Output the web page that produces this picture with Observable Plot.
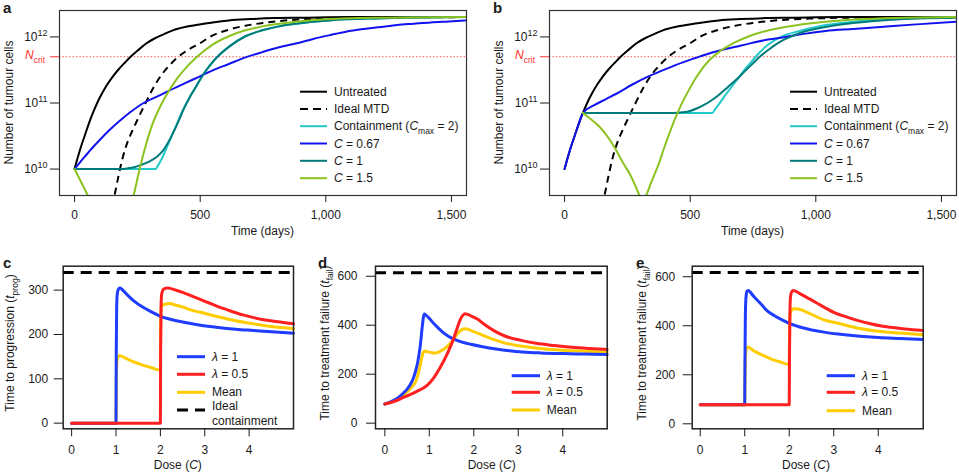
<!DOCTYPE html>
<html><head><meta charset="utf-8">
<script src="https://cdn.jsdelivr.net/npm/d3@7"></script>
<script src="https://cdn.jsdelivr.net/npm/@observablehq/plot@0.6"></script>
<style>
body{margin:0;background:#fff;}
#wrap{position:relative;width:959px;height:476px;overflow:hidden;font-family:"Liberation Sans",Arial,Helvetica,sans-serif;}
</style></head><body><div id="wrap"></div>
<script>
// ---------- Panel a / b data: [day, log10(number of tumour cells)] ----------
const untreated = [[0,10.00],[10,10.14],[20,10.27],[30,10.39],[40,10.50],[55,10.67],[73,10.85],[90,11.00],[110,11.15],[130,11.28],[152,11.40],[180,11.53],[200,11.61],[223,11.70],[250,11.79],[285,11.90],[320,11.98],[360,12.05],[391,12.10],[440,12.15],[484,12.18],[550,12.22],[614,12.25],[700,12.27],[800,12.285],[900,12.29],[1100,12.30],[1560,12.30]];
const idealMTD = [[140,9.26],[159,9.60],[175,9.90],[192,10.18],[210,10.40],[230,10.58],[252,10.76],[280,10.98],[312,11.22],[345,11.42],[378,11.57],[410,11.69],[450,11.80],[497,11.90],[548,12.02],[614,12.11],[680,12.17],[747,12.21],[813,12.24],[900,12.265],[1000,12.28],[1200,12.295],[1560,12.30]];
const containA = [[0,10.00],[322,10.00],[330,10.04],[345,10.14],[365,10.31],[398,10.60],[431,10.89],[460,11.10],[482,11.24],[521,11.48],[561,11.67],[614,11.85],[680,12.01],[747,12.10],[813,12.16],[880,12.20],[1011,12.25],[1200,12.28],[1560,12.30]];
const dose067A = [[0,10.00],[20,10.095],[40,10.185],[73,10.33],[100,10.44],[139,10.59],[180,10.73],[220,10.855],[275,11.00],[330,11.10],[375,11.185],[440,11.30],[497,11.40],[548,11.49],[614,11.59],[680,11.69],[747,11.77],[810,11.84],[880,11.90],[950,11.97],[1019,12.03],[1080,12.08],[1151,12.12],[1220,12.15],[1284,12.18],[1350,12.20],[1417,12.22],[1490,12.235],[1560,12.25]];
const dose1A = [[0,10.00],[180,10.00],[210,10.01],[240,10.03],[263,10.06],[295,10.11],[329,10.19],[350,10.27],[369,10.38],[395,10.57],[420,10.78],[431,10.88],[460,11.10],[482,11.24],[521,11.48],[561,11.67],[614,11.85],[680,12.01],[747,12.10],[813,12.16],[880,12.20],[1011,12.25],[1200,12.28],[1560,12.30]];
const dose15A_fall = [[0,10.00],[53,9.60],[75,9.43]];
const dose15A_rise = [[215,9.30],[235,9.60],[259,10.00],[285,10.38],[310,10.68],[340,10.94],[375,11.18],[410,11.38],[445,11.54],[482,11.68],[548,11.88],[614,12.01],[680,12.10],[747,12.16],[880,12.23],[1011,12.27],[1200,12.29],[1560,12.30]];

const containB = [[73,10.85],[588,10.85],[600,10.91],[614,10.98],[634,11.09],[654,11.19],[694,11.39],[720,11.52],[747,11.64],[775,11.76],[800,11.85],[840,11.96],[880,12.03],[946,12.10],[1039,12.18],[1150,12.23],[1300,12.27],[1560,12.30]];
const dose067B = [[0,10.00],[10,10.14],[20,10.27],[30,10.39],[40,10.50],[55,10.67],[73,10.85],[120,10.97],[165,11.06],[206,11.14],[270,11.28],[338,11.41],[420,11.54],[481,11.63],[520,11.68],[560,11.73],[614,11.79],[680,11.85],[747,11.91],[810,11.96],[879,12.00],[960,12.05],[1039,12.09],[1150,12.12],[1257,12.15],[1400,12.19],[1560,12.23]];
const dose1B = [[73,10.85],[430,10.85],[470,10.86],[500,10.88],[528,10.92],[555,10.97],[581,11.03],[610,11.11],[641,11.21],[670,11.31],[694,11.39],[720,11.49],[747,11.59],[780,11.71],[813,11.81],[846,11.90],[880,11.97],[946,12.07],[1039,12.15],[1150,12.21],[1300,12.26],[1560,12.29]];
const dose15B = [[73,10.85],[100,10.77],[139,10.64],[175,10.47],[206,10.28],[235,10.08],[259,9.93],[285,9.72],[298,9.60],[312,9.50],[325,9.60],[345,9.80],[372,10.05],[400,10.36],[425,10.62],[444,10.80],[465,10.98],[481,11.10],[497,11.21],[521,11.37],[548,11.52],[574,11.64],[614,11.77],[680,11.92],[747,12.03],[879,12.15],[1039,12.23],[1200,12.27],[1560,12.30]];

const nCritLog = 11.70;
const logTicks = [10, 11, 12];
const dayTicks = [0, 500, 1000, 1500];

// ---------- Panels c / d / e data: [dose C, time] ----------
const lambda1C = [[0,0],[1.0,0],[1.005,150],[1.015,262],[1.03,293],[1.06,303],[1.09,305],[1.13,302],[1.2,295],[1.3,285],[1.4,276],[1.6,262],[1.8,251],[2.0,241],[2.2,235],[2.5,228],[2.9,221],[3.3,216],[3.7,212],[4.1,209],[4.5,206],[5.0,203]];
const lambda05C = [[0,0],[2.0,0],[2.005,150],[2.015,262],[2.03,292],[2.07,302],[2.15,305],[2.22,304],[2.35,300],[2.5,295],[2.7,287],[2.9,279],[3.1,271],[3.3,263],[3.5,256],[3.7,249],[3.9,243],[4.1,238],[4.4,232],[4.7,228],[5.0,224]];
const meanC = [[0,0],[1.0,0],[1.005,75],[1.015,131],[1.03,146],[1.06,151],[1.09,152],[1.2,147],[1.4,138],[1.6,131],[1.8,125],[1.98,120],[2.0,120],[2.005,195],[2.015,255],[2.04,265],[2.1,268],[2.2,270],[2.35,266],[2.5,262],[2.7,255],[2.9,250],[3.3,240],[3.7,231],[4.1,224],[4.5,218],[5.0,213]];
const idealC = 340;

const lambda1D = [[0,78],[0.1,85],[0.2,93],[0.3,104],[0.43,125],[0.5,139],[0.58,160],[0.65,188],[0.69,212],[0.74,250],[0.77,283],[0.8,322],[0.84,392],[0.87,435],[0.89,446],[0.92,442],[1.0,428],[1.1,407],[1.18,392],[1.3,372],[1.42,356],[1.55,343],[1.7,333],[1.93,322],[2.2,312],[2.5,303],[2.8,296],[3.1,291],[3.5,287],[4.0,284],[4.5,282],[5.0,280]];
const lambda05D = [[0,78],[0.2,88],[0.43,106],[0.7,128],[0.95,154],[1.1,185],[1.25,229],[1.4,282],[1.53,337],[1.62,385],[1.7,425],[1.76,442],[1.8,447],[1.86,444],[1.95,437],[2.08,425],[2.25,402],[2.45,378],[2.7,356],[3.06,338],[3.4,326],[3.81,317],[4.2,310],[4.6,305],[5.0,301]];
const meanD = [[0,78],[0.2,90],[0.43,116],[0.6,146],[0.7,172],[0.77,215],[0.82,258],[0.86,287],[0.89,295],[0.95,292],[1.05,288],[1.15,287],[1.25,294],[1.4,313],[1.53,338],[1.62,362],[1.7,378],[1.78,386],[1.85,384],[2.0,374],[2.31,351],[2.7,327],[3.06,315],[3.5,305],[4.0,298],[4.5,294],[5.0,291]];
const idealD = 614;

const lambda1E = [[0,78],[1.0,78],[1.005,250],[1.015,450],[1.03,520],[1.05,540],[1.08,544],[1.12,538],[1.2,520],[1.36,490],[1.5,462],[1.66,442],[1.85,423],[2.03,408],[2.3,392],[2.78,374],[3.1,366],[3.53,358],[4.0,352],[4.5,348],[5.0,344]];
const lambda05E = [[0,78],[2.0,78],[2.005,250],[2.015,450],[2.03,520],[2.06,540],[2.1,544],[2.15,540],[2.25,530],[2.4,515],[2.6,495],[2.78,476],[3.0,455],[3.25,438],[3.53,422],[3.8,409],[4.1,398],[4.28,394],[4.6,387],[5.0,381]];
const meanE = [[0,78],[1.0,78],[1.005,160],[1.015,265],[1.03,298],[1.05,309],[1.08,312],[1.2,298],[1.4,280],[1.6,264],[1.8,252],[1.97,243],[2.0,243],[2.005,330],[2.015,440],[2.04,460],[2.1,469],[2.2,468],[2.4,455],[2.78,424],[3.1,410],[3.53,391],[4.0,378],[4.5,370],[5.0,363]];
const idealE = 617;

const doseTicks = [0, 1, 2, 3, 4];

// ---------- colours ----------
const COL = {untreated:"#000000", mtd:"#000000", contain:"#22c8c8", c067:"#1212ee", c1:"#007b7b", c15:"#8cc21f",
             lam1:"#1f3cff", lam05:"#ff2020", mean:"#ffcc00", crit:"#ff3030"};
const FONT = "'Liberation Sans', Arial, Helvetica, sans-serif";

const wrap = document.getElementById("wrap");

function rich(sel, segs) {
  let shift = 0;
  segs.forEach(([s, f]) => {
    const ts = sel.append("tspan").text(s);
    const target = f === "sub" ? 3.5 : f === "sup" ? -5 : 0;
    if (target !== shift) { ts.attr("dy", target - shift); shift = target; }
    if (f === "sub" || f === "sup") ts.attr("font-size", "8.5px");
    if (f === "i") ts.attr("font-style", "italic");
  });
}
function place(fig, left, top) {
  fig.style.position = "absolute";
  fig.style.left = left + "px";
  fig.style.top = top + "px";
  fig.style.maxWidth = "none";
  wrap.appendChild(fig);
}
function addText(svg, x, y, segs, opts = {}) {
  const t = d3.select(svg).append("text")
    .attr("x", x).attr("y", y)
    .attr("font-size", opts.size || 12)
    .attr("fill", opts.fill || "#1a1a1a")
    .attr("text-anchor", opts.anchor || "start")
    .attr("font-family", FONT);
  if (opts.bold) t.attr("font-weight", "bold");
  if (opts.rotate) t.attr("x", null).attr("y", null).attr("transform", `translate(${x},${y}) rotate(-90)`);
  rich(t, segs);
  return t;
}
function legend(svg, items, x0, x1, xt, width) {
  const g = d3.select(svg).append("g");
  items.forEach(it => {
    g.append("line").attr("x1", x0).attr("x2", x1).attr("y1", it.y).attr("y2", it.y)
      .attr("stroke", it.color).attr("stroke-width", width)
      .attr("stroke-dasharray", it.dash || null);
    (it.lines || [it.segs]).forEach((segs, k) => {
      addText(svg, xt, (it.textY ? it.textY[k] : it.y) + 4, segs);
    });
  });
}

const rowsOf = (pts, key) => pts.map(([x, v]) => ({x, y: 10 ** v, key}));

function topPanel(cfg) {
  const lineMarks = cfg.series.map(s => Plot.line(s.segments.flatMap((seg, i) => rowsOf(seg, i)), {
    x: "x", y: "y", z: "key", stroke: s.color, strokeWidth: 2, strokeDasharray: s.dash,
    strokeLinecap: s.dash ? "butt" : "round", curve: "monotone-x", clip: true
  }));
  const fig = Plot.plot({
    width: cfg.width, height: 245,
    marginTop: 10, marginBottom: 50, marginLeft: 59, marginRight: cfg.marginRight,
    x: {domain: [-60, 1560]},
    y: {type: "log", domain: [10 ** 9.6, 10 ** 12.4]},
    style: {fontFamily: FONT, fontSize: "12px", color: "#1a1a1a", background: "white", overflow: "visible"},
    marks: [
      Plot.ruleY([10 ** nCritLog], {stroke: "#ff4a4a", strokeWidth: 1.2, strokeDasharray: "1.4,2"}),
      ...lineMarks,
      Plot.frame({stroke: "#333", strokeWidth: 1.2}),
      Plot.axisX({ticks: dayTicks, tickFormat: d3.format(","), tickSize: 7, tickPadding: 8, label: null}),
      Plot.axisY({ticks: logTicks.map(v => 10 ** v), tickFormat: d => "10^" + Math.round(Math.log10(d)), tickSize: 9, tickPadding: 3, label: null}),
      Plot.axisY([10 ** nCritLog], {tickSize: 9, stroke: COL.crit, tickFormat: () => "", label: null})
    ]
  });
  d3.select(fig).selectAll('g[aria-label="y-axis tick label"] text').each(function () {
    const s = this.textContent;
    if (!s.includes("^")) return;
    const [b, e] = s.split("^");
    const t = d3.select(this); t.text(null);
    t.append("tspan").text(b);
    t.append("tspan").attr("dy", "-0.5em").attr("font-size", "9px").text(e);
  });
  const yc = fig.scale("y").apply(10 ** nCritLog);
  addText(fig, 45, yc + 3, [["N", "i"], ["crit", "sub"]], {anchor: "end", fill: COL.crit});
  addText(fig, 3, 13, [[cfg.letter]], {bold: true, size: 15});
  addText(fig, 13, 102.5, [["Number of tumour cells"]], {anchor: "middle", rotate: true});
  addText(fig, 262.5, 235, [["Time (days)"]], {anchor: "middle"});
  const ys = [91.7, 108.9, 126.2, 143.5, 160.8, 178.2];
  legend(fig, [
    {y: ys[0], color: COL.untreated, segs: [["Untreated"]]},
    {y: ys[1], color: COL.mtd, dash: "8,5", segs: [["Ideal MTD"]]},
    {y: ys[2], color: COL.contain, segs: [["Containment ("], ["C", "i"], ["max", "sub"], [" = 2)"]]},
    {y: ys[3], color: COL.c067, segs: [["C", "i"], [" = 0.67"]]},
    {y: ys[4], color: COL.c1, segs: [["C", "i"], [" = 1"]]},
    {y: ys[5], color: COL.c15, segs: [["C", "i"], [" = 1.5"]]}
  ], 300, 327, 334, 2);
  place(fig, cfg.left, 0);
}

topPanel({letter: "a", left: 0, width: 480, marginRight: 14, series: [
  {color: COL.untreated, segments: [untreated]},
  {color: COL.mtd, dash: "7,5", segments: [idealMTD]},
  {color: COL.contain, segments: [containA]},
  {color: COL.c067, segments: [dose067A]},
  {color: COL.c1, segments: [dose1A]},
  {color: COL.c15, segments: [dose15A_fall, dose15A_rise]}
]});
topPanel({letter: "b", left: 490, width: 469, marginRight: 3, series: [
  {color: COL.untreated, segments: [untreated]},
  {color: COL.mtd, dash: "7,5", segments: [idealMTD]},
  {color: COL.contain, segments: [containB]},
  {color: COL.c067, segments: [dose067B]},
  {color: COL.c1, segments: [dose1B]},
  {color: COL.c15, segments: [dose15B]}
]});

const rows2 = pts => pts.map(([x, y]) => ({x, y}));

function bottomPanel(cfg) {
  const fig = Plot.plot({
    width: cfg.width, height: 221,
    marginTop: 10.7, marginBottom: 47.7, marginLeft: cfg.mL, marginRight: cfg.mR,
    x: {domain: cfg.xDom},
    y: {domain: cfg.yDom},
    style: {fontFamily: FONT, fontSize: "12px", color: "#1a1a1a", background: "white", overflow: "visible"},
    marks: [
      Plot.ruleY([cfg.ideal], {stroke: "#000", strokeWidth: 3, strokeDasharray: "11,7"}),
      Plot.line(rows2(cfg.mean), {x: "x", y: "y", stroke: COL.mean, strokeWidth: 3, curve: "monotone-x"}),
      Plot.line(rows2(cfg.lam1), {x: "x", y: "y", stroke: COL.lam1, strokeWidth: 3, curve: "monotone-x"}),
      Plot.line(rows2(cfg.lam05), {x: "x", y: "y", stroke: COL.lam05, strokeWidth: 3, curve: "monotone-x"}),
      Plot.frame({stroke: "#222", strokeWidth: 1.5}),
      Plot.axisX({ticks: doseTicks, tickFormat: d => String(d), tickSize: 8, tickPadding: 9, label: null}),
      Plot.axisY({ticks: cfg.yTicks, tickFormat: d => String(d), tickSize: 9, tickPadding: cfg.pad, label: null})
    ]
  });
  addText(fig, cfg.letterX, 13, [[cfg.letter]], {bold: true, size: 15});
  addText(fig, cfg.titleX, 88, cfg.ytitle, {anchor: "middle", rotate: true});
  addText(fig, cfg.xtitleX, 214, [["Dose ("], ["C", "i"], [")"]], {anchor: "middle"});
  legend(fig, cfg.legend, cfg.lx0, cfg.lx1, cfg.lxt, 3);
  place(fig, cfg.left, 255);
}

const lamItems = ys => [
  {y: ys[0], color: COL.lam1, segs: [["λ", "i"], [" = 1"]]},
  {y: ys[1], color: COL.lam05, segs: [["λ", "i"], [" = 0.5"]]},
  {y: ys[2], color: COL.mean, segs: [["Mean"]]}
];

bottomPanel({letter: "c", left: 0, width: 310, mL: 62.7, mR: 17, xDom: [-0.19, 5.0], yDom: [-12.7, 354],
  yTicks: [0, 100, 200, 300], pad: 6, ideal: idealC, mean: meanC, lam1: lambda1C, lam05: lambda05C,
  letterX: 3, titleX: 14, xtitleX: 177.8,
  ytitle: [["Time to progression ("], ["t", "i"], ["prog", "sub"], [")"]],
  lx0: 177, lx1: 205, lxt: 212,
  legend: [...lamItems([101.7, 119.3, 137.3]),
    {y: 155, color: "#000", dash: "11,7", lines: [[["Ideal"]], [["containment"]]], textY: [151, 165.7]}]
});
bottomPanel({letter: "d", left: 315, width: 310, mL: 60, mR: 18.3, xDom: [-0.21, 5.0], yDom: [-23, 641],
  yTicks: [0, 200, 400, 600], pad: 9, ideal: idealD, mean: meanD, lam1: lambda1D, lam05: lambda05D,
  letterX: 3, titleX: 14, xtitleX: 176.7,
  ytitle: [["Time to treatment failure ("], ["t", "i"], ["fail", "sub"], [")"]],
  lx0: 196.7, lx1: 225, lxt: 231.7,
  legend: lamItems([120.7, 137.3, 155])
});
bottomPanel({letter: "e", left: 635, width: 324, mL: 56.7, mR: 36.3, xDom: [-0.18, 5.01], yDom: [-20.4, 643],
  yTicks: [0, 200, 400, 600], pad: 8, ideal: idealE, mean: meanE, lam1: lambda1E, lam05: lambda05E,
  letterX: 1, titleX: 11, xtitleX: 171,
  ytitle: [["Time to treatment failure ("], ["t", "i"], ["fail", "sub"], [")"]],
  lx0: 191.7, lx1: 220, lxt: 227,
  legend: lamItems([120.7, 137.3, 155.7])
});
</script>
</body></html>
